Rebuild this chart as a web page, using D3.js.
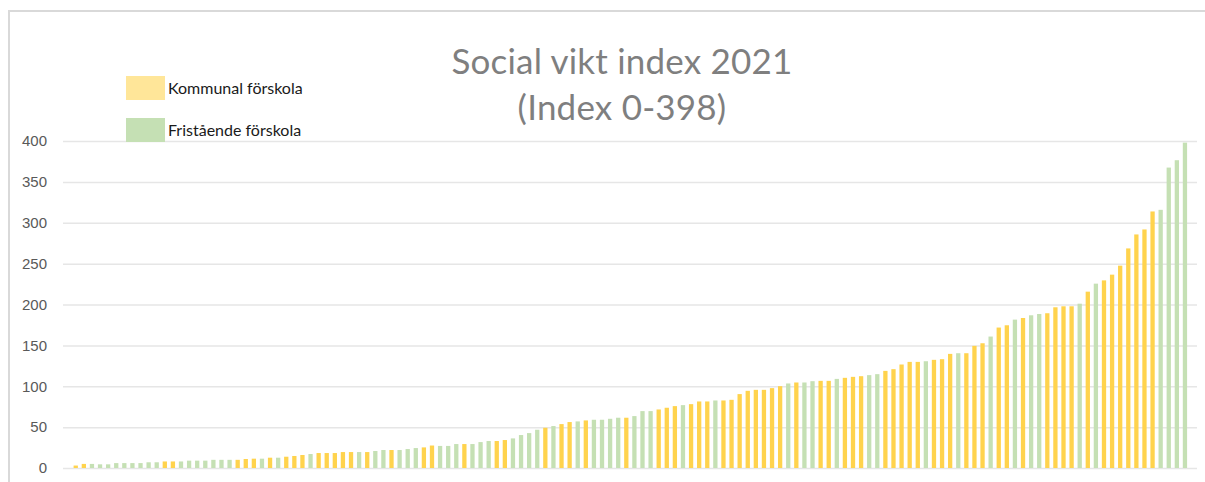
<!DOCTYPE html>
<html>
<head>
<meta charset="utf-8">
<script src="https://cdn.jsdelivr.net/npm/d3@7"></script>
<style>
  body { margin: 0; background: #fff; }
  svg { display: block; }
  .axis path { display: none; }
  .axis line { stroke: #e6e6e6; stroke-width: 1.5; }
  .axis text { fill: #595959; font-family: "Liberation Sans", Arial, sans-serif; font-size: 15px; }
</style>
</head>
<body>
<div id="chart"></div>
<script>
(function () {
  // index value per preschool, sorted ascending
  const values = [
    3, 5, 5, 4.5, 4.5, 6, 6, 6, 6, 7, 7, 8, 8, 8, 9, 9, 9, 10, 10, 10, 10, 11,
    11.4, 11.4, 12.6, 12.6, 13.8, 14.7, 15.9, 17.1, 18.3, 18.3, 18.3, 19.5, 19.5, 19.5, 19.5, 20.8, 22, 22, 22, 23.2, 24.4, 25.2, 27.5,
    27, 27, 29.3, 29.3, 29.3, 31.7, 33, 33, 34.2, 36.2, 40.3, 42.7, 46.8, 49.2, 51.3, 53.7, 56.2, 57, 58.2, 59, 59, 60.2, 61.5, 61.5,
    63.5, 69.6, 69.6, 71.6, 73.7, 75.7, 76.9, 78.1, 81.4, 81.4, 82.6, 82.6, 83.4, 90.4, 94.4, 95.6, 95.6, 97.7, 100.1, 103.4, 104.6, 104.6, 106.2,
    106.6, 106.6, 109, 110.3, 111.5, 112.3, 113.6, 114.8, 118.8, 120.9, 126.6, 129.8, 129.8, 130.6, 132.3, 133.1, 139.6, 140.4, 140.4, 149.4, 152.6, 160.8,
    171.8, 174.6, 181.5, 183.5, 186.8, 188.4, 189.3, 196.6, 197.8, 197.8, 201, 215.7, 225.5, 229.5, 236.5, 247.5, 268.6, 285.7, 291.8, 313.8, 315.8, 367.5, 376.5, 398
  ];

  // K = Kommunal förskola, F = Fristående förskola
  const types = (
    "KKFFFFFFFFFKKFFFFFFFKK" +
    "KFKFKKKFKKKKKFKFFKFFFKK" +
    "FFFKFFFKKFFFFKFKKFKFFFFK" +
    "FFFKKKFKKKFKKKKKKKKFKFF" +
    "KKFKKKFFKKKKKFKKKFKKKF" +
    "KKFKFFKKKKFKFKKKKKKKFFFF"
  ).split("");

  const seriesNames = { K: "Kommunal förskola", F: "Fristående förskola" };
  const barColors = { K: "#FFD34D", F: "#C5E0B4" };
  const legendColors = { K: "#FFE699", F: "#C5E0B4" };
  const yTicks = [0, 50, 100, 150, 200, 250, 300, 350, 400];
  const titleLines = ["Social vikt index 2021", "(Index 0-398)"];

  const width = 1205;
  const height = 482;

  const svg = d3.select("#chart").append("svg")
    .attr("width", width)
    .attr("height", height);

  // outer frame
  svg.append("path")
    .attr("d", "M9,482 V11 H1205")
    .attr("fill", "none")
    .attr("stroke", "#d9d9d9")
    .attr("stroke-width", 2);

  const x = d3.scaleBand()
    .domain(d3.range(values.length))
    .range([71.7, 1189])
    .paddingInner(0.47)
    .paddingOuter(0.235);

  const y = d3.scaleLinear()
    .domain([0, 400])
    .range([468, 141]);

  svg.append("g")
    .attr("class", "axis")
    .attr("transform", "translate(63,0)")
    .call(d3.axisLeft(y)
      .tickValues(yTicks)
      .tickSize(-1134)
      .tickPadding(16));

  svg.append("g")
    .selectAll("rect")
    .data(values)
    .join("rect")
    .attr("x", (d, i) => x(i))
    .attr("y", d => y(d))
    .attr("width", x.bandwidth())
    .attr("height", d => y(0) - y(d))
    .attr("fill", (d, i) => barColors[types[i]]);

  svg.append("g")
    .selectAll("text")
    .data(titleLines)
    .join("text")
    .attr("x", 622)
    .attr("y", (d, i) => 74 + i * 46)
    .attr("text-anchor", "middle")
    .attr("fill", "#7f7f7f")
    .style("font-family", "Lato, sans-serif")
    .style("font-size", "35px")
    .style("letter-spacing", "0.2px")
    .text(d => d);

  const legend = svg.append("g")
    .selectAll("g")
    .data(["K", "F"])
    .join("g")
    .attr("transform", (d, i) => "translate(126," + (76 + i * 42) + ")");

  legend.append("rect")
    .attr("width", 39)
    .attr("height", 24)
    .attr("fill", d => legendColors[d]);

  legend.append("text")
    .attr("x", 42)
    .attr("y", 18)
    .attr("fill", "#1a1a1a")
    .style("font-family", "Lato, sans-serif")
    .style("font-size", "16px")
    .text(d => seriesNames[d]);
})();
</script>
</body>
</html>
